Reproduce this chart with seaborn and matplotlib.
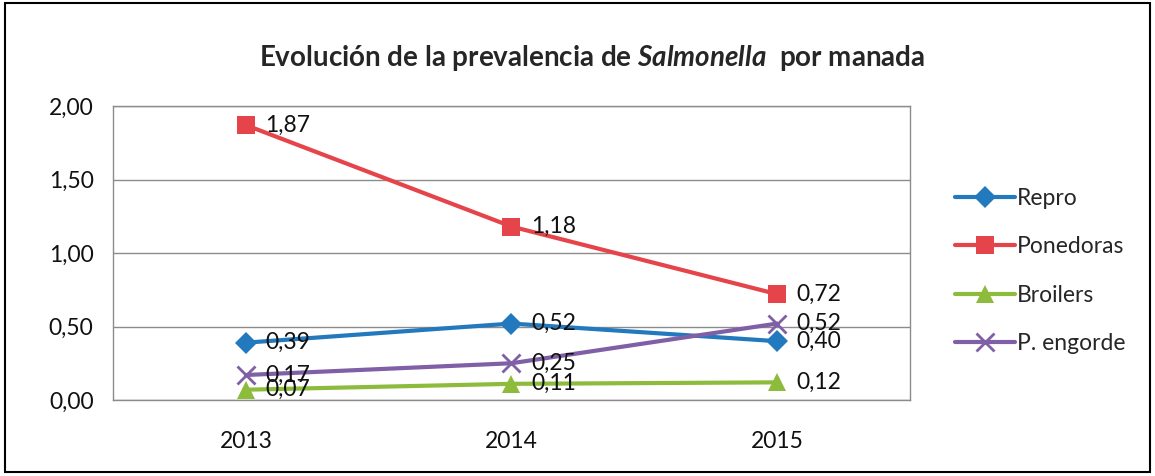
import pandas as pd
import matplotlib
matplotlib.use('Agg')
import matplotlib.pyplot as plt
import seaborn as sns
from matplotlib.patches import Rectangle

# datos del gráfico
years = ['2013', '2014', '2015']
repro = [0.39, 0.52, 0.40]
ponedoras = [1.87, 1.18, 0.72]
broilers = [0.07, 0.11, 0.12]
p_engorde = [0.17, 0.25, 0.52]
series_names = ['Repro', 'Ponedoras', 'Broilers', 'P. engorde']

colors = {'Repro': '#2379bd', 'Ponedoras': '#e5454a',
          'Broilers': '#8dbb3c', 'P. engorde': '#7f5fa6'}
markers = {'Repro': 'D', 'Ponedoras': 's', 'Broilers': '^', 'P. engorde': 'x'}
msize = {'Repro': 11, 'Ponedoras': 13, 'Broilers': 13, 'P. engorde': 13}

df = pd.DataFrame({
    'year': years * 4,
    'value': repro + ponedoras + broilers + p_engorde,
    'serie': [s for s in series_names for _ in years],
})

sns.set_theme(style='white')
plt.rcParams['font.family'] = ['Lato', 'DejaVu Sans']
plt.rcParams['mathtext.fontset'] = 'custom'
plt.rcParams['mathtext.it'] = 'Lato:italic:bold'
plt.rcParams['mathtext.rm'] = 'Lato:bold'

fs = 16.5

fig = plt.figure(figsize=(11.55, 4.76), dpi=100)
ax = fig.add_axes([113 / 1155, 1 - 400 / 476, 797 / 1155, 294 / 476])

for name in series_names:
    sub = df[df['serie'] == name]
    sns.lineplot(data=sub, x='year', y='value', ax=ax, color=colors[name],
                 marker=markers[name], markersize=msize[name], linewidth=3,
                 markeredgewidth=2 if name == 'P. engorde' else 0,
                 markeredgecolor=colors[name], label=name, sort=False)
    for x, v in zip(sub['year'], sub['value']):
        ax.annotate(f"{v:.2f}".replace('.', ','), (x, v), xytext=(14, 0),
                    textcoords='offset points', va='center', ha='left',
                    fontsize=fs, color='#111111')

ax.set_xlim(-0.5, 2.5)
ax.set_ylim(0, 2)
ax.set_yticks([0, 0.5, 1.0, 1.5, 2.0])
ax.set_yticklabels(['0,00', '0,50', '1,00', '1,50', '2,00'])
ax.tick_params(axis='both', length=0, labelsize=fs, colors='#111111')
ax.tick_params(axis='y', pad=14)
ax.tick_params(axis='x', pad=22)
ax.set_xlabel('')
ax.set_ylabel('')
ax.yaxis.grid(True, color='#8c8c8c', linewidth=1)
for sp in ax.spines.values():
    sp.set_color('#8c8c8c')
    sp.set_linewidth(1)

ax.legend(loc='center left', bbox_to_anchor=(946 / 1155, 1 - 271 / 476),
          bbox_transform=fig.transFigure, frameon=False, fontsize=fs,
          handlelength=2.6, handletextpad=0.1, labelspacing=1.2,
          borderaxespad=0)

fig.text(0.513, 1 - 58 / 476,
         r'Evolución de la prevalencia de $\mathit{Salmonella}$  por manada',
         ha='center', va='center', fontsize=20, fontweight='bold')

# marco exterior
fig.patches.append(Rectangle((0.004, 0.008), 0.992, 0.986, transform=fig.transFigure,
                             fill=False, edgecolor='black', linewidth=1.5))

fig.savefig('out.png', dpi=100)
